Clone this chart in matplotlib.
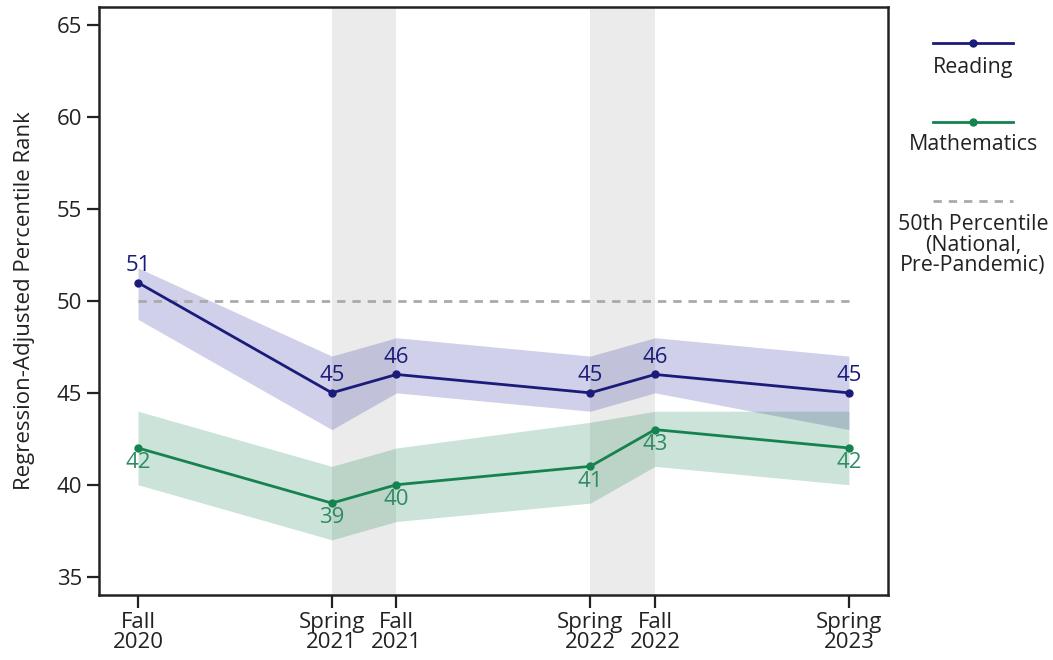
import matplotlib
matplotlib.use("Agg")
import matplotlib.pyplot as plt
from matplotlib.lines import Line2D

plt.rcParams['font.family'] = ['Open Sans', 'DejaVu Sans']

# months since Fall 2020
months = [0, 9, 12, 21, 24, 33]
tick_labels = ['Fall\n2020', 'Spring\n2021', 'Fall\n2021', 'Spring\n2022', 'Fall\n2022', 'Spring\n2023']
summers = [(9, 12), (21, 24)]

reading = [51, 45, 46, 45, 46, 45]
reading_lo = [49, 43, 45, 44, 45, 43]
reading_hi = [51.8, 47, 48, 47, 48, 47]

math = [42, 39, 40, 41, 43, 42]
math_lo = [40, 37, 38, 39, 41, 40]
math_hi = [44, 41, 42, 43.4, 44, 44]

national = 50

NAVY = '#1b1b7a'
NAVY_BAND = '#3c3ca8'
GREEN = '#16824f'
GREEN_TXT = '#2e8b62'
DARK = '#222222'

fig = plt.figure(figsize=(10.53, 6.6), dpi=100)
ax = fig.add_axes([0.094, 0.0985, 0.749, 0.891])

for a, b in summers:
    ax.axvspan(a, b, color='#ebebeb', lw=0, zorder=0)

ax.fill_between(months, reading_lo, reading_hi, color=NAVY_BAND, alpha=0.24, lw=0, zorder=1)
ax.fill_between(months, math_lo, math_hi, color=GREEN, alpha=0.22, lw=0, zorder=1)

ax.plot([months[0], months[-1]], [national, national], color='#aaaaaa', lw=2,
        ls=(0, (3, 2.5)), zorder=2)

ax.plot(months, reading, color=NAVY, lw=2, marker='o', ms=5, zorder=3)
ax.plot(months, math, color=GREEN, lw=2, marker='o', ms=5, zorder=3)

for x, v in zip(months, reading):
    ax.annotate(f'{v}', (x, v), xytext=(0, 5), textcoords='offset points',
                ha='center', va='bottom', fontsize=16, color=NAVY)
for x, v in zip(months, math):
    ax.annotate(f'{v}', (x, v), xytext=(0, -3), textcoords='offset points',
                ha='center', va='top', fontsize=16, color=GREEN_TXT)

ax.set_xlim(-1.81, 34.8)
ax.set_ylim(34, 66)
ax.set_yticks([35, 40, 45, 50, 55, 60, 65])
ax.set_xticks(months)
ax.set_xticklabels(tick_labels, linespacing=0.97)
ax.tick_params(axis='both', direction='out', length=9, width=1.6, color=DARK,
               labelsize=16, labelcolor=DARK, pad=3)
ax.set_ylabel('Regression-Adjusted Percentile Rank', fontsize=16, color=DARK, labelpad=16)
for s in ax.spines.values():
    s.set_linewidth(1.8)
    s.set_color(DARK)

# legend drawn beside the plot, each key stacked over its label
lx0, lx1 = 933 / 1053, 1013 / 1053
lcx = (lx0 + lx1) / 2
def fy(py):
    return 1 - py / 660

fig.add_artist(Line2D([lx0, lx1], [fy(43)] * 2, color=NAVY, lw=2))
fig.add_artist(Line2D([lcx], [fy(43)], color=NAVY, marker='o', ms=5))
fig.text(lcx, fy(68), 'Reading', ha='center', va='center', fontsize=15.4, color=DARK)

fig.add_artist(Line2D([lx0, lx1], [fy(122)] * 2, color=GREEN, lw=2))
fig.add_artist(Line2D([lcx], [fy(122)], color=GREEN, marker='o', ms=5))
fig.text(lcx, fy(145), 'Mathematics', ha='center', va='center', fontsize=15.4, color=DARK)

fig.add_artist(Line2D([lx0, lx1], [fy(201)] * 2, color='#aaaaaa', lw=2, ls=(0, (3, 2.5))))
fig.text(lcx, fy(245), '50th Percentile\n(National,\nPre-Pandemic)', ha='center',
         va='center', fontsize=15.4, color=DARK, linespacing=0.95)

fig.savefig('out.png', dpi=100)
